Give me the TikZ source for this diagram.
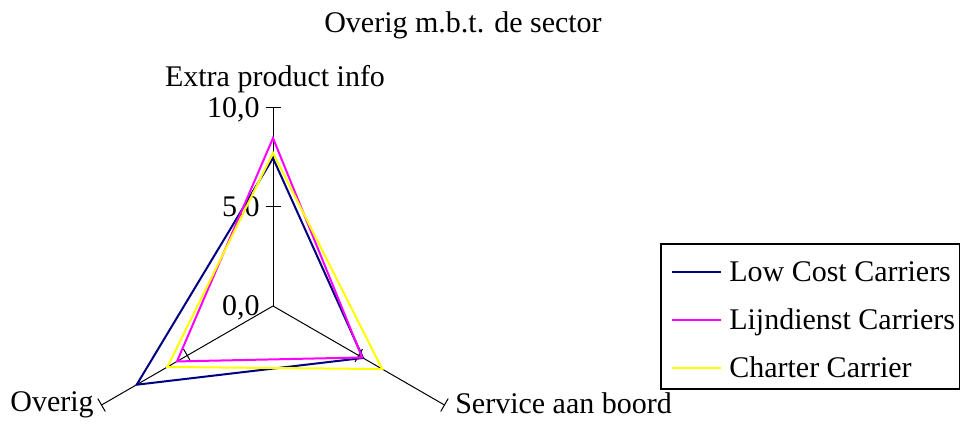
\documentclass[tikz,border=0pt]{standalone}
\usepackage{fontspec}
\setmainfont{Liberation Serif}
\usetikzlibrary{calc}
\definecolor{lcc}{HTML}{000080}
\definecolor{ldc}{HTML}{FF00FF}
\definecolor{chc}{HTML}{FFFF00}
\begin{document}
\begin{tikzpicture}[x=0.75pt,y=0.75pt,
  lbl/.style={font=\fontsize{22.5}{27}\selectfont, inner sep=0pt},
  axisline/.style={line width=0.75pt},
  series/.style={line width=1.5pt, line join=miter},
  legendbox/.style={line width=1pt},
]
\useasboundingbox (0,0) rectangle (961,425);
\coordinate (c) at (273,119);

% radar axes with ticks at 5 and 10
\foreach \a/\n in {90/top,210/left,330/right} {
  \draw[axisline] (c) -- ($(c)+(\a:198)$) coordinate (\n end);
  \foreach \v in {5,10}
    \draw[axisline] ($(c)+(\a:{\v*19.8})+(\a+90:7.5)$) -- ($(c)+(\a:{\v*19.8})+(\a-90:7.5)$);
}

% scale labels
\node[lbl, anchor=base east] (s0) at (260,109) {0,0};
\node[lbl, anchor=base east] (s5) at (260,208) {5,0};
\node[lbl, anchor=base east] (s10) at (260,307) {10,0};

% category labels
\node[lbl, anchor=base] (title) at (463,392) {Overig m.b.t. de sector};
\node[lbl, anchor=base] (cat1) at (275,338) {Extra product info};
\node[lbl, anchor=base east] (cat2) at (94,13) {Overig};
\node[lbl, anchor=base west] (cat3) at (455,12) {Service aan boord};

% data series
\begin{scope}[shift={(c)}]
  \draw[series, lcc] (90:{7.47*19.8}) -- (210:{7.95*19.8}) -- (330:{5.25*19.8}) -- cycle;
  \draw[series, ldc] (90:{8.48*19.8}) -- (210:{5.6*19.8}) -- (330:{5.2*19.8}) -- cycle;
  \draw[series, chc] (90:{7.73*19.8}) -- (210:{6.16*19.8}) -- (330:{6.37*19.8}) -- cycle;
\end{scope}

% legend
\draw[legendbox] (661,36) rectangle (959.5,181);
\coordinate (k1a) at (672,153); \coordinate (k1b) at (721,153);
\coordinate (k2a) at (672,105); \coordinate (k2b) at (721,105);
\coordinate (k3a) at (672,57);  \coordinate (k3b) at (721,57);
\draw[series, lcc] (k1a) -- (k1b);
\draw[series, ldc] (k2a) -- (k2b);
\draw[series, chc] (k3a) -- (k3b);
\node[lbl, anchor=base west] (l1) at (729,143) {Low Cost Carriers};
\node[lbl, anchor=base west] (l2) at (729,95) {Lijndienst Carriers};
\node[lbl, anchor=base west] (l3) at (729,47) {Charter Carrier};
\end{tikzpicture}
\end{document}
